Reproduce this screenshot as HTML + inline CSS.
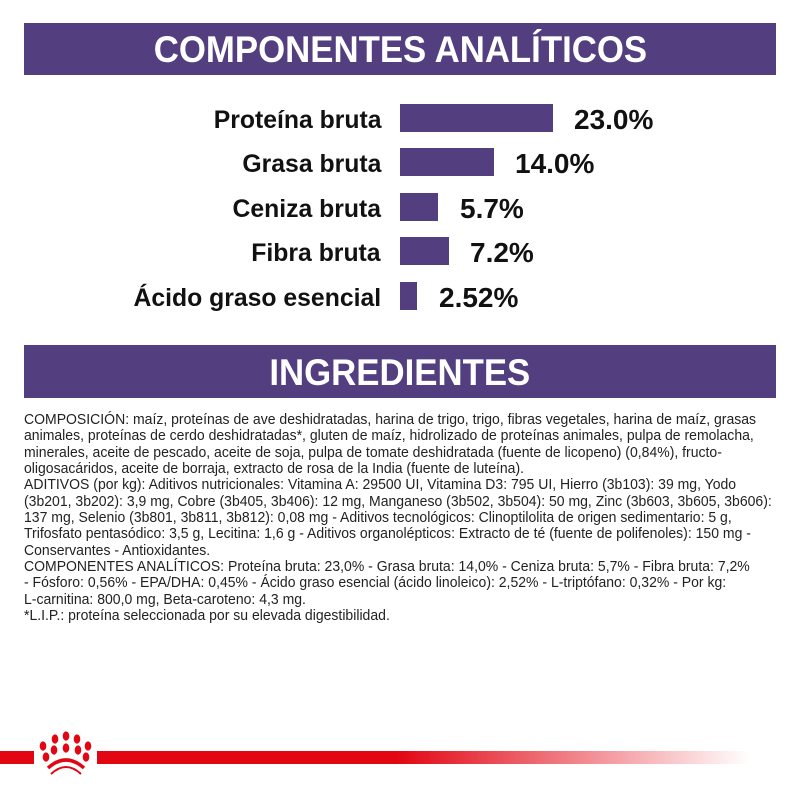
<!DOCTYPE html><html><head><meta charset="utf-8"><style>
body{margin:0;width:800px;height:800px;background:#fff;position:relative;overflow:hidden;font-family:"Liberation Sans",sans-serif}
.hb{position:absolute;left:24px;width:752px;background:#533f80;color:#fff;font-weight:bold;text-align:center}
.hb span{display:inline-block;transform:scaleX(0.94)}
.lab{position:absolute;right:419px;font-size:25px;font-weight:bold;color:#111;white-space:nowrap;transform:scaleX(0.99);transform-origin:right center;line-height:28px}
.bar{position:absolute;left:400px;background:#533f80}
.val{position:absolute;font-size:28px;font-weight:bold;color:#111;white-space:nowrap;transform:scaleX(1.0);transform-origin:left center;line-height:28px}
.txt{position:absolute;left:24px;top:412px;font-size:14.3px;line-height:16.35px;color:#222;white-space:nowrap;transform:scaleX(0.98);transform-origin:left top}
</style></head><body>
<div class="hb" style="top:23px;height:52px;line-height:54px;font-size:37px"><span>COMPONENTES ANALÍTICOS</span></div>
<div class="lab" style="top:106px">Proteína bruta</div>
<div class="bar" style="top:104px;width:153px;height:28px"></div>
<div class="val" style="left:574px;top:106px">23.0%</div>
<div class="lab" style="top:150px">Grasa bruta</div>
<div class="bar" style="top:148px;width:94px;height:28px"></div>
<div class="val" style="left:515px;top:150px">14.0%</div>
<div class="lab" style="top:195px">Ceniza bruta</div>
<div class="bar" style="top:193px;width:38px;height:28px"></div>
<div class="val" style="left:460px;top:195px">5.7%</div>
<div class="lab" style="top:239px">Fibra bruta</div>
<div class="bar" style="top:237px;width:49px;height:28px"></div>
<div class="val" style="left:470px;top:239px">7.2%</div>
<div class="lab" style="top:284px">Ácido graso esencial</div>
<div class="bar" style="top:282px;width:17px;height:28px"></div>
<div class="val" style="left:439px;top:284px">2.52%</div>
<div class="hb" style="top:345px;height:53px;line-height:55px;font-size:37px"><span>INGREDIENTES</span></div>
<div class="txt">COMPOSICIÓN: maíz, proteínas de ave deshidratadas, harina de trigo, trigo, fibras vegetales, harina de maíz, grasas<br>animales, proteínas de cerdo deshidratadas*, gluten de maíz, hidrolizado de proteínas animales, pulpa de remolacha,<br>minerales, aceite de pescado, aceite de soja, pulpa de tomate deshidratada (fuente de licopeno) (0,84%), fructo-<br>oligosacáridos, aceite de borraja, extracto de rosa de la India (fuente de luteína).<br>ADITIVOS (por kg): Aditivos nutricionales: Vitamina A: 29500 UI, Vitamina D3: 795 UI, Hierro (3b103): 39 mg, Yodo<br>(3b201, 3b202): 3,9 mg, Cobre (3b405, 3b406): 12 mg, Manganeso (3b502, 3b504): 50 mg, Zinc (3b603, 3b605, 3b606):<br>137 mg, Selenio (3b801, 3b811, 3b812): 0,08 mg - Aditivos tecnológicos: Clinoptilolita de origen sedimentario: 5 g,<br>Trifosfato pentasódico: 3,5 g, Lecitina: 1,6 g - Aditivos organolépticos: Extracto de té (fuente de polifenoles): 150 mg -<br>Conservantes - Antioxidantes.<br>COMPONENTES ANALÍTICOS: Proteína bruta: 23,0% - Grasa bruta: 14,0% - Ceniza bruta: 5,7% - Fibra bruta: 7,2%<br>- Fósforo: 0,56% - EPA/DHA: 0,45% - Ácido graso esencial (ácido linoleico): 2,52% - L-triptófano: 0,32% - Por kg:<br>L-carnitina: 800,0 mg, Beta-caroteno: 4,3 mg.<br>*L.I.P.: proteína seleccionada por su elevada digestibilidad.</div>
<div style="position:absolute;left:0;top:751px;width:34px;height:13px;background:#e20613"></div>
<div style="position:absolute;left:97px;top:751px;width:653px;height:13px;background:linear-gradient(to right,#e20613 0,#e20613 300px,rgba(226,6,19,0) 653px)"></div>
<svg style="position:absolute;left:36px;top:730px" width="60" height="50" viewBox="0 0 60 50">
<g fill="#e20613">
<ellipse cx="7" cy="16" rx="3.3" ry="4.6"/><ellipse cx="19" cy="9" rx="3.3" ry="4.6"/><ellipse cx="30" cy="6" rx="3.3" ry="4.6"/><ellipse cx="41" cy="9" rx="3.3" ry="4.6"/><ellipse cx="52" cy="16" rx="3.3" ry="4.6"/>
<ellipse cx="18" cy="20" rx="3.3" ry="4.6"/><ellipse cx="30" cy="18" rx="3.3" ry="4.6"/><ellipse cx="42" cy="20" rx="3.3" ry="4.6"/>
<ellipse cx="10" cy="27" rx="3.3" ry="4.6"/><ellipse cx="50" cy="27" rx="3.3" ry="4.6"/>
</g>
<path d="M12 38 Q30 22 48 38" stroke="#e20613" stroke-width="3.5" fill="none"/>
<path d="M15 44 Q30 30 45 44" stroke="#e20613" stroke-width="2" fill="none"/>
</svg>
</body></html>
